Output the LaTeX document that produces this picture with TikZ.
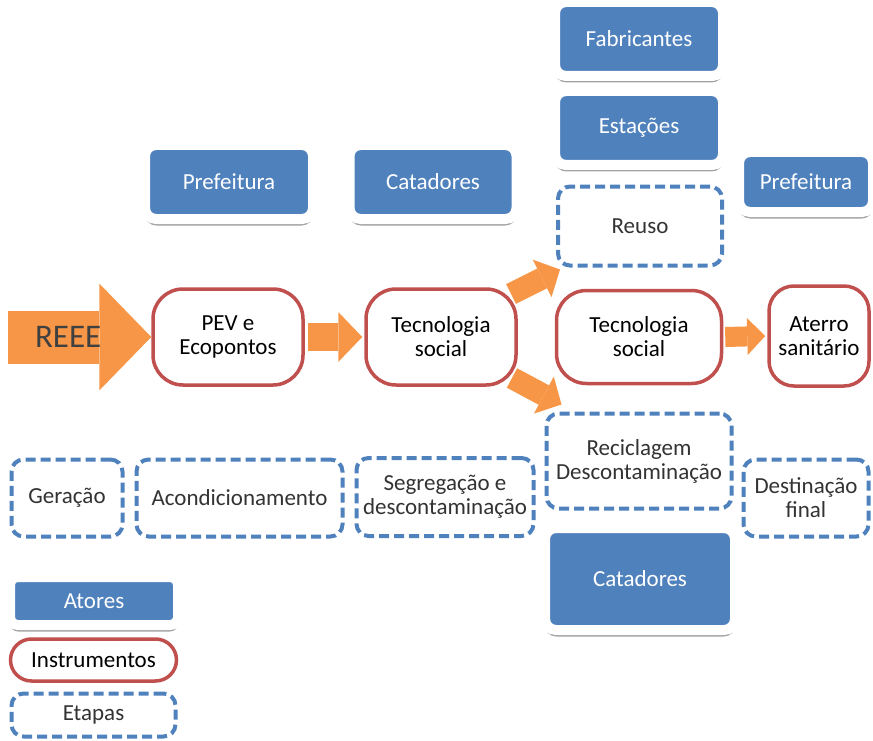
\documentclass[tikz,border=0pt]{standalone}
\usepackage{fontspec}
\setmainfont{Carlito}
\usetikzlibrary{arrows.meta,shadows}

\definecolor{actorblue}{HTML}{4F81BD}
\definecolor{instred}{HTML}{C0504D}
\definecolor{flowor}{HTML}{F79646}

\tikzset{
  actor/.style={fill=actorblue, draw=white, line width=10pt, rounded corners=11pt,
    text=white, drop shadow={shadow xshift=0pt, shadow yshift=-6.5pt, fill=black!60, opacity=0.6}},
  instrument/.style={draw=instred, line width=3.5pt, rounded corners=30pt, fill=white, text=black},
  stage/.style={draw=actorblue, line width=4pt, dash pattern=on 10pt off 5pt,
    rounded corners=12pt, fill=white, text=black!80},
  bigflow/.style={flowor, line width=53pt, -{Triangle[length=52pt,width=107pt,line width=0pt]}},
  midflow/.style={flowor, line width=28pt, -{Triangle[length=24pt,width=50pt,line width=0pt]}},
  smallflow/.style={flowor, line width=20pt, -{Triangle[length=18pt,width=37pt,line width=0pt]}},
  diagflow/.style={flowor, line width=22pt, -{Triangle[length=20pt,width=42pt,line width=0pt]}}
}

\begin{document}
\begin{tikzpicture}[x=1pt,y=-1pt,
  every node/.style={align=center, inner sep=0pt, text=black!85,
    font=\fontsize{23}{24}\selectfont}]
  \useasboundingbox (0,0) rectangle (873,741);

  % atores
  \node[actor, minimum width=168pt, minimum height=74pt] (fabricantes) at (639,39) {Fabricantes};
  \node[actor, minimum width=168pt, minimum height=74pt] (estacoes) at (639,128) {Estações};
  \node[actor, minimum width=134pt, minimum height=60pt] (pref right) at (806,182) {Prefeitura};
  \node[actor, minimum width=168pt, minimum height=74pt] (pref left) at (229,182) {Prefeitura};
  \node[actor, minimum width=167pt, minimum height=74pt] (cat top) at (433,182) {Catadores};
  \node[actor, minimum width=190pt, minimum height=102pt] (cat bottom) at (640,579) {Catadores};

  % instrumentos
  \node[instrument, minimum width=150pt, minimum height=96pt] (pev) at (228,337) {PEV e\\Ecopontos};
  \node[instrument, minimum width=150pt, minimum height=96pt] (tec1) at (441,337) {Tecnologia\\social};
  \node[instrument, minimum width=165pt, minimum height=93pt] (tec2) at (639,337) {Tecnologia\\social};
  \node[instrument, rounded corners=25pt, minimum width=100pt, minimum height=100pt] (aterro) at (819,336) {Aterro\\sanitário};

  % etapas
  \node[stage, minimum width=164pt, minimum height=79pt] (reuso) at (640,226) {Reuso};
  \node[stage, minimum width=185pt, minimum height=95pt] (recicl) at (639,461) {Reciclagem\\Descontaminação};
  \node[stage, minimum width=111pt, minimum height=77pt] (geracao) at (67,498) {Geração};
  \node[stage, minimum width=206pt, minimum height=77pt] (acond) at (239.5,498) {Acondicionamento};
  \node[stage, minimum width=177pt, minimum height=78pt] (segreg) at (445,497) {Segregação e\\descontaminação};
  \node[stage, minimum width=125pt, minimum height=77pt] (destin) at (806,498) {Destinação\\final};

  % fluxo
  \coordinate (reee tail) at (8,337);
  \coordinate (up tail) at (511,294);
  \coordinate (down tail) at (512,378);
  \draw[bigflow] (reee tail) -- (pev.west)
    node[pos=0.42, text=black!75, font=\fontsize{33}{36}\selectfont] (reee) {REEE};
  \draw[midflow] ([xshift=3pt]pev.east) -- ([xshift=-2pt]tec1.west);
  \draw[smallflow] ([xshift=2pt]tec2.east) -- ([xshift=-2pt]aterro.west);
  \draw[diagflow] (up tail) -- ([xshift=4pt,yshift=-2pt]reuso.south west);
  \draw[diagflow] (down tail) -- ([xshift=17pt,yshift=7pt]recicl.north west);

  % legenda
  \node[actor, minimum width=168pt, minimum height=48pt, rounded corners=8pt] (atores) at (94,601) {Atores};
  \node[instrument, rounded corners=21pt, minimum width=166pt, minimum height=42pt] (instr) at (93.5,660) {Instrumentos};
  \node[stage, minimum width=164pt, minimum height=43pt] (etapas) at (93.5,715) {Etapas};
\end{tikzpicture}
\end{document}
